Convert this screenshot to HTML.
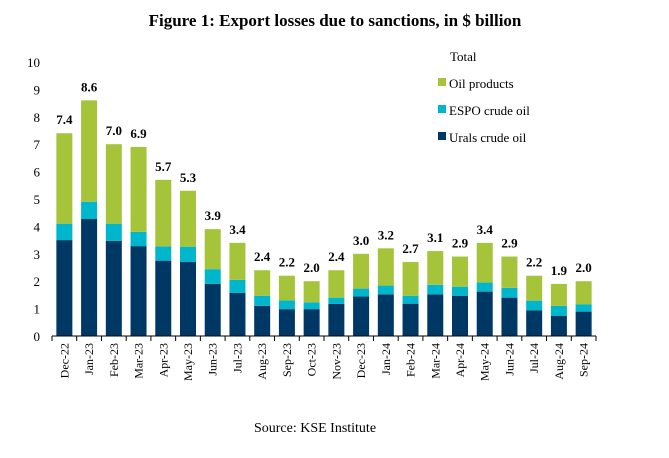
<!DOCTYPE html>
<html><head><meta charset="utf-8"><style>
body{margin:0;background:#fff;width:669px;height:453px;overflow:hidden}
svg text{font-family:"Liberation Serif",serif}
</style></head><body>
<svg width="669" height="453">
<text x="335" y="26" text-anchor="middle" font-size="17" font-weight="bold">Figure 1: Export losses due to sanctions, in $ billion</text>
<g id="yaxis"></g>
<g id="bars"></g>
<g id="xaxis"></g>
<g>
<text x="450" y="61" font-size="13">Total</text>
<rect x="438" y="78" width="8" height="8" fill="#a6c43a"/>
<text x="449" y="88" font-size="13">Oil products</text>
<rect x="438" y="105" width="8" height="8" fill="#00b6cc"/>
<text x="449" y="115" font-size="13">ESPO crude oil</text>
<rect x="438" y="132" width="8" height="8" fill="#003865"/>
<text x="449" y="142" font-size="13">Urals crude oil</text>
</g>
<text x="315" y="432" text-anchor="middle" font-size="14">Source: KSE Institute</text>
</svg>
<script>
const categories=["Dec-22","Jan-23","Feb-23","Mar-23","Apr-23","May-23","Jun-23","Jul-23","Aug-23","Sep-23","Oct-23","Nov-23","Dec-23","Jan-24","Feb-24","Mar-24","Apr-24","May-24","Jun-24","Jul-24","Aug-24","Sep-24"];
const urals=[3.5,4.27,3.47,3.28,2.75,2.7,1.9,1.57,1.1,0.98,0.98,1.17,1.44,1.52,1.18,1.52,1.47,1.62,1.4,0.94,0.73,0.89];
const espo=[0.6,0.63,0.63,0.52,0.52,0.56,0.54,0.48,0.37,0.32,0.25,0.23,0.29,0.32,0.29,0.35,0.33,0.33,0.36,0.35,0.37,0.27];
const totals=[7.4,8.6,7.0,6.9,5.7,5.3,3.9,3.4,2.4,2.2,2.0,2.4,3.0,3.2,2.7,3.1,2.9,3.4,2.9,2.2,1.9,2.0];
const yTicks=[0,1,2,3,4,5,6,7,8,9,10];
const NS="http://www.w3.org/2000/svg";
const X0=52,X1=596,Y0=336,Y10=62;
const step=(X1-X0)/categories.length;
const y=v=>Y0-(Y0-Y10)*v/10;
const xc=i=>X0+step*(i+0.5);
function mk(t,a,p){const e=document.createElementNS(NS,t);for(const k in a)e.setAttribute(k,a[k]);p.appendChild(e);return e;}
const ya=document.getElementById('yaxis'),ba=document.getElementById('bars'),xa=document.getElementById('xaxis');
yTicks.forEach(t=>{const e=mk('text',{x:40,y:y(t)+5,'text-anchor':'end','font-size':13},ya);e.textContent=t;

});
const bw=16;
categories.forEach((c,i)=>{
 const oil=totals[i]-urals[i]-espo[i];
 const segs=[[0,urals[i],'#003865','urals'],[urals[i],urals[i]+espo[i],'#00b6cc','espo'],[urals[i]+espo[i],urals[i]+espo[i]+oil,'#a6c43a','oil']];
 segs.forEach(s=>{const r=mk('rect',{x:xc(i)-bw/2,y:y(s[1]),width:bw,height:y(s[0])-y(s[1]),fill:s[2]},ba);
 
 });
 const tl=mk('text',{x:xc(i),y:y(totals[i])-9,'text-anchor':'middle','font-size':13,'font-weight':'bold'},ba);
 tl.textContent=totals[i].toFixed(1);
 
 
 const xl=mk('text',{x:0,y:0,'text-anchor':'end','font-size':12,transform:`translate(${xc(i)+4},343) rotate(-90)`},xa);
 xl.textContent=c;
 
 
});
const ax=mk('line',{x1:X0,y1:Y0,x2:X1,y2:Y0,stroke:'#000','stroke-width':1},xa);


for(let i=0;i<=categories.length;i++){const tk=mk('line',{x1:X0+step*i,y1:Y0,x2:X0+step*i,y2:Y0+5,stroke:'#000'},xa);

}
</script>
</body></html>
